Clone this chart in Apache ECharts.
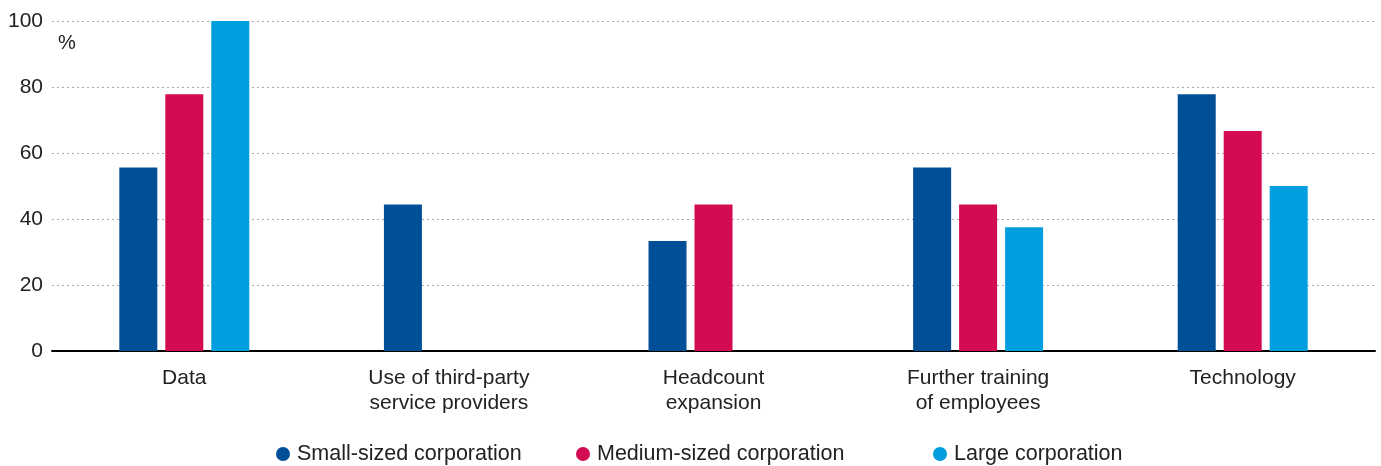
<!DOCTYPE html>
<html><head><meta charset="utf-8">
<script src="https://cdn.jsdelivr.net/npm/echarts@6/dist/echarts.min.js"></script>
<style>html,body{margin:0;padding:0;background:#fff}#c{width:1381px;height:466px}</style>
</head><body><div id="c"></div>
<script>
const categories = ['Data', 'Use of third-party\nservice providers', 'Headcount\nexpansion', 'Further training\nof employees', 'Technology'];
const seriesNames = ['Small-sized corporation', 'Medium-sized corporation', 'Large corporation'];
const small = [55.6, 44.4, 33.3, 55.6, 77.8];
const medium = [77.8, null, 44.4, 44.4, 66.7];
const large = [100, null, null, 37.5, 50];
const yTicks = [0, 20, 40, 60, 80, 100];
const colors = ['#004F97', '#D30B52', '#009EDE'];

const font = 'Liberation Sans';
const chart = echarts.init(document.getElementById('c'));
const mkLegend = (i, left) => ({
  data: [seriesNames[i]], left: left, top: 439, padding: 0, icon: 'circle', itemWidth: 14, itemHeight: 14, itemGap: 0,
  textStyle: { fontFamily: font, fontSize: 21.5, color: '#222', padding: [0, 0, 0, 2], lineHeight: 30 }
});
chart.setOption({
  animation: false,
  title: { text: '%', left: 53, top: 28, textStyle: { fontFamily: font, fontSize: 20, fontWeight: 'normal', color: '#222' } },
  legend: [mkLegend(0, 276), mkLegend(1, 576), mkLegend(2, 933)],
  grid: { left: 52, right: 6, top: 21, bottom: 115 },
  xAxis: {
    type: 'category', data: categories,
    axisLine: { lineStyle: { color: '#000', width: 2 } },
    axisTick: { show: false },
    axisLabel: { fontFamily: font, fontSize: 21, color: '#222', lineHeight: 25, margin: 15 }
  },
  yAxis: {
    type: 'value', min: yTicks[0], max: yTicks[yTicks.length - 1], interval: 20,
    axisLine: { show: false }, axisTick: { show: false },
    axisLabel: { fontFamily: font, fontSize: 21, color: '#222', margin: 9 },
    splitLine: { lineStyle: { color: '#aaa', type: [2, 3], width: 1 } }
  },
  series: [small, medium, large].map((d, i) => ({
    name: seriesNames[i], type: 'bar', data: d, barWidth: 38, barGap: '21%',
    itemStyle: { color: colors[i] }
  }))
});
</script></body></html>
